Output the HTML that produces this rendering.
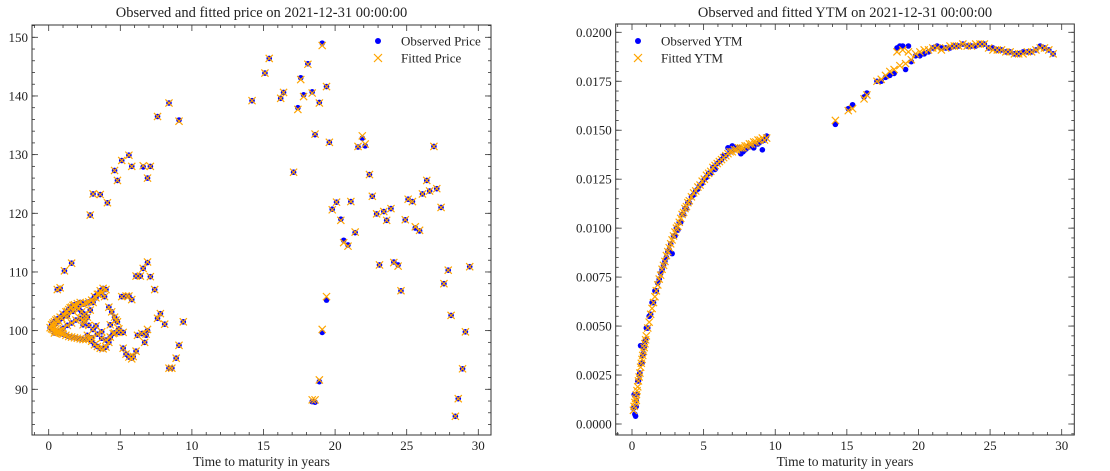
<!DOCTYPE html>
<html><head><meta charset="utf-8">
<style>
html,body{margin:0;padding:0;background:#fff;}
svg{display:block;font-family:"Liberation Serif","DejaVu Serif",serif;}
</style></head>
<body>
<svg id="chart" width="1110" height="471" viewBox="0 0 1110 471" xmlns="http://www.w3.org/2000/svg"></svg>
<script>
// ---------- Price chart data ----------
const priceX = [0.6,0.8,1.1,1.6,2.9,3.1,3.6,4.1,4.6,4.8,5.1,5.6,5.8,6.6,6.9,7.1,7.6,8.4,9.1,
6.1,6.4,6.6,6.9,7.1,7.4,7.8,7.6,8.1,8.4,8.6,8.9,9.1,9.4,
5.1,5.4,5.6,5.8,5.2,4.9,5.2,5.4,5.6,5.8,5.9,6.1,6.2,6.5,6.7,6.8,6.9,
0.1,0.2,0.3,0.4,0.5,0.6,0.7,0.8,0.9,1.0,1.2,1.4,1.6,1.8,2.0,2.2,2.4,2.6,2.8,3.0,
0.2,0.3,0.4,0.5,0.6,0.8,1.0,1.2,1.4,1.6,1.8,2.0,2.2,2.4,2.6,2.8,3.0,3.2,3.4,3.6,3.8,4.0,
4.2,4.4,4.6,4.8,4.5,4.2,4.0,3.8,3.6,3.4,3.2,3.0,2.7,2.4,1.3,1.7,2.1,2.5,3.3,3.7,4.3,4.7,
0.3,0.5,0.7,0.9,1.1,1.3,1.5,1.7,1.9,2.1,2.3,2.5,2.7,2.9,3.1,3.3,3.5,3.7,3.9,
0.4,0.7,1.0,1.3,1.6,1.9,2.2,2.5,2.8,3.1,3.4,3.7,4.0,4.3,4.6,4.9,
14.2,15.1,15.4,16.2,16.4,17.1,17.4,17.6,17.8,18.1,18.4,18.6,18.9,19.1,19.4,19.6,
18.4,18.6,18.9,19.1,19.4,19.8,20.1,20.4,20.6,20.9,21.1,21.4,21.6,21.9,22.1,22.4,22.6,22.9,23.1,23.4,23.6,23.9,
24.1,24.4,24.6,24.9,25.1,25.4,25.6,25.9,26.1,26.4,26.6,26.9,27.1,27.4,27.6,27.9,28.1,28.4,28.6,28.9,29.1,29.4];
const priceObs = [107,107.2,110.2,111.5,119.7,123.3,123.2,121.8,127.3,125.6,129,129.9,128,127.9,126,128,136.5,138.8,135.9,
109.3,109.3,110.6,111.6,109.2,107,102.9,102.1,101.1,93.6,93.6,95.3,97.5,101.5,
105.8,105.9,105.9,105.3,99.7,99.7,97,96,95.5,95.3,95.6,96.5,99.2,99.5,98,99.2,100,
100.5,100.3,100.2,100,99.9,99.8,99.7,99.6,99.5,99.4,99.2,99,98.9,98.8,98.7,98.6,98.5,98.5,98.6,98.8,
101,101.3,101.5,101.8,102,102.3,102.8,103.2,103.6,104,104.4,104.6,104.8,104.5,104.7,104.9,105.2,105.8,106.2,106.8,107.2,107,
104,103.2,102.3,101.5,99.5,98,97.2,96.9,97,97.3,97.6,98.2,99.2,101,102.5,103.3,103.8,102.2,100.8,99.8,101,101.8,
100.9,101.2,101.6,102.1,102.6,103.3,103.9,104.3,104.1,103.7,103.2,102.8,102.3,103.5,104.8,105.6,106.2,106.5,105.8,
99.6,99.9,100.4,100.9,101.3,101.8,102.1,101.6,100.9,100.2,99.4,98.7,98.4,98.9,99.6,100.3,
139.2,143.9,146.4,139.6,140.6,127,138,143.1,140.2,145.5,140.7,133.4,138.9,149,141.6,132.1,
87.9,87.8,91.3,99.7,105.2,120.7,121.9,119,115.4,114.6,122,116.7,131.3,132.8,131.5,126.6,122.9,119.9,111.2,120.3,118.8,120.8,
111.7,111.2,106.8,118.9,122.4,122,117.5,117,123.3,125.6,123.8,131.4,124.2,121,108,110.3,102.6,85.4,88.4,93.5,99.8,110.9];
const priceFit = [107,107.3,110.2,111.5,119.7,123.3,123.2,121.8,127.3,125.6,129,129.9,128,128.1,126,128,136.5,138.8,135.7,
109.3,109.3,110.6,111.7,109.2,107,102.9,102.1,101.1,93.6,93.6,95.3,97.5,101.5,
105.8,105.9,105.9,105.3,99.7,99.7,97,96,95.5,95.2,95.6,96.5,99.2,99.5,98,99.4,100.2,
100.5,100.3,100.2,100,99.9,99.8,99.7,99.6,99.5,99.4,99.2,99,98.9,98.8,98.7,98.6,98.5,98.5,98.6,98.8,
101,101.3,101.5,101.8,102,102.3,102.8,103.2,103.6,104,104.4,104.6,104.8,104.5,104.7,104.9,105.2,105.8,106.2,106.8,107.2,107,
104,103.2,102.3,101.5,99.5,98,97.2,96.9,97,97.3,97.6,98.2,99.2,101,102.5,103.3,103.8,102.2,100.8,99.8,101,101.8,
100.9,101.2,101.6,102.1,102.6,103.3,103.9,104.3,104.1,103.7,103.2,102.8,102.3,103.5,104.8,105.6,106.2,106.5,105.8,
99.6,99.9,100.4,100.9,101.3,101.8,102.1,101.6,100.9,100.2,99.4,98.7,98.4,98.9,99.6,100.3,
139.2,143.9,146.4,139.6,140.6,127,137.7,142.8,139.9,145.4,140.5,133.5,138.8,148.6,141.6,132.1,
88.2,88.2,91.6,100.2,105.8,120.6,121.9,118.8,115,114.4,122,116.8,131.4,133.2,131.8,126.6,122.9,119.9,111.2,120.3,118.8,120.8,
111.6,111,106.8,118.9,122.4,122,117.7,117.1,123.3,125.6,123.8,131.4,124.2,121,108,110.3,102.6,85.4,88.4,93.5,99.8,110.9];
const priceYTicks = [90,100,110,120,130,140,150];
const xTicks = [0,5,10,15,20,25,30];

// ---------- YTM chart data ----------
const ytmX = [0.1,0.15,0.2,0.25,0.3,0.35,0.4,0.5,0.6,0.7,0.8,0.9,1.0,1.2,1.4,1.6,1.8,2.0,2.2,2.4,2.6,2.8,3.0,3.2,3.4,3.6,3.8,4.0,4.3,4.6,4.9,5.2,5.5,5.8,6.1,6.4,6.7,7.0,7.3,7.6,7.9,8.2,8.5,8.8,9.1,9.4,
0.3,0.45,0.55,0.65,0.75,0.85,0.95,1.1,1.3,1.5,1.7,1.9,2.1,2.3,2.5,2.7,2.9,3.1,3.3,3.5,3.7,3.9,4.15,4.45,4.75,5.05,5.35,5.65,5.95,6.25,6.55,6.85,7.15,7.45,7.75,8.05,8.35,8.65,8.95,9.25,
14.2,15.1,15.4,16.2,16.4,17.1,17.4,17.7,18.0,18.3,18.5,18.7,18.9,19.1,19.3,19.5,19.8,20.1,20.4,20.7,21.0,21.3,21.6,21.9,22.2,22.5,22.8,23.1,23.4,23.7,24.0,24.3,24.6,24.9,25.2,25.5,25.8,26.1,26.4,26.7,27.0,27.3,27.6,27.9,28.2,28.5,28.8,29.1,29.4];
const ytmObs = [0.0008,0.0015,0.0005,0.0004,0.0009,0.0015,0.0022,0.0025,0.004,0.0031,0.0036,0.0042,0.0049,0.0055,0.0062,0.0068,0.0072,0.0077,0.0081,0.0085,0.0089,0.0087,0.0096,0.0099,0.0103,0.0107,0.011,0.0113,0.0117,0.012,0.0123,0.0126,0.0128,0.013,0.0134,0.0137,0.0141,0.0142,0.0141,0.0138,0.014,0.0142,0.0141,0.0143,0.014,0.0147,
0.0012,0.0022,0.0026,0.0031,0.0035,0.0039,0.0043,0.0049,0.0056,0.0062,0.0068,0.0074,0.0079,0.0083,0.0088,0.0092,0.0096,0.01,0.0103,0.0107,0.011,0.0113,0.0116,0.0119,0.0122,0.0125,0.0128,0.0131,0.0133,0.0135,0.0137,0.0139,0.014,0.0141,0.0139,0.0141,0.0142,0.0143,0.0144,0.0145,
0.0153,0.0161,0.0163,0.0167,0.0169,0.0175,0.0175,0.0177,0.0178,0.0179,0.0192,0.0193,0.0193,0.0181,0.0193,0.0185,0.0188,0.0188,0.0189,0.019,0.0192,0.0193,0.0192,0.0192,0.0192,0.0193,0.0193,0.0194,0.0193,0.0193,0.0193,0.0194,0.0194,0.0192,0.0192,0.0191,0.0191,0.019,0.019,0.0189,0.0189,0.019,0.019,0.019,0.0191,0.0193,0.0192,0.0191,0.0189];
const ytmFit = [0.0007,0.0009,0.0011,0.0013,0.0015,0.0017,0.0019,0.0024,0.0029,0.0033,0.0037,0.0041,0.0045,0.0052,0.0059,0.0065,0.0071,0.0076,0.0081,0.0086,0.009,0.0094,0.0098,0.0101,0.0105,0.0108,0.0111,0.0114,0.0118,0.0121,0.0124,0.0127,0.0129,0.0132,0.0134,0.0136,0.0138,0.0139,0.014,0.0141,0.0142,0.0143,0.0144,0.0145,0.0146,0.0146,
0.0012,0.0022,0.0026,0.0031,0.0035,0.0039,0.0043,0.0049,0.0056,0.0062,0.0068,0.0074,0.0079,0.0083,0.0088,0.0092,0.0096,0.01,0.0103,0.0107,0.011,0.0113,0.0116,0.0119,0.0122,0.0125,0.0128,0.0131,0.0133,0.0135,0.0137,0.0139,0.014,0.0141,0.0141,0.0142,0.0143,0.0144,0.0145,0.0145,
0.0155,0.016,0.0161,0.0166,0.0168,0.0175,0.0176,0.0178,0.018,0.0181,0.019,0.0183,0.0191,0.0184,0.019,0.0186,0.0189,0.019,0.0191,0.0191,0.0192,0.0192,0.0191,0.0192,0.0193,0.0193,0.0193,0.0194,0.0193,0.0193,0.0194,0.0194,0.0194,0.0192,0.0191,0.0191,0.0191,0.019,0.019,0.0189,0.0189,0.0189,0.019,0.019,0.0191,0.0192,0.0192,0.0191,0.0189];
const ytmYTicks = [0,0.0025,0.005,0.0075,0.01,0.0125,0.015,0.0175,0.02];
const ytmYLabels = ["0.0000","0.0025","0.0050","0.0075","0.0100","0.0125","0.0150","0.0175","0.0200"];

const NS = "http://www.w3.org/2000/svg";
const svg = document.getElementById('chart');
function mk(tag, attrs, parent){
  const e = document.createElementNS(NS, tag);
  for (const k in attrs) e.setAttribute(k, attrs[k]);
  (parent||svg).appendChild(e);
  return e;
}

function drawPanel(cfg){
  const g = mk('g', {});
  
  
  const {L,R,T,B} = cfg.frame;
  const sx = v => cfg.x0px + (v - 0) * (cfg.x30px - cfg.x0px) / 30;
  const sy = v => cfg.yApx + (v - cfg.yA) * (cfg.yBpx - cfg.yApx) / (cfg.yB - cfg.yA);
  const t = mk('text', {x:(L+R)/2, y:17, 'text-anchor':'middle', 'font-size':14.5, fill:'#222'}, g);
  t.textContent = cfg.title;
  
  
  const xl = mk('text', {x:(L+R)/2, y:466, 'text-anchor':'middle', 'font-size':13.5, fill:'#222'}, g);
  xl.textContent = 'Time to maturity in years';
  
  
  for (let v = -1; v <= 31; v++){
    const x = sx(v);
    if (x < L || x > R) continue;
    const len = (v % 5 === 0) ? 6 : 3;
    mk('line', {x1:x, y1:B, x2:x, y2:B-len, stroke:'#333', 'stroke-width':0.8}, g);
    mk('line', {x1:x, y1:T, x2:x, y2:T+len, stroke:'#333', 'stroke-width':0.8}, g);
  }
  xTicks.forEach(v => {
    const tx = mk('text', {x:sx(v), y:B+15, 'text-anchor':'middle', 'font-size':13, fill:'#222'}, g);
    tx.textContent = v;
    
    
  });
  for (let v = cfg.minorStart; v <= cfg.minorEnd + 1e-9; v += cfg.minorStep){
    const y = sy(v);
    if (y < T || y > B) continue;
    mk('line', {x1:L, y1:y, x2:L+3, y2:y, stroke:'#333', 'stroke-width':0.8}, g);
    mk('line', {x1:R, y1:y, x2:R-3, y2:y, stroke:'#333', 'stroke-width':0.8}, g);
  }
  cfg.yTicks.forEach((v, i) => {
    const y = sy(v);
    mk('line', {x1:L, y1:y, x2:L+6, y2:y, stroke:'#333', 'stroke-width':0.8}, g);
    mk('line', {x1:R, y1:y, x2:R-6, y2:y, stroke:'#333', 'stroke-width':0.8}, g);
    const ty = mk('text', {x:L-4, y:y+4.5, 'text-anchor':'end', 'font-size':13, fill:'#222'}, g);
    ty.textContent = cfg.yLabels[i];
    
    
  });
  const og = mk('g', {}, g);
  
  
  cfg.xs.forEach((xv, i) => {
    const c = mk('circle', {cx:sx(xv), cy:sy(cfg.obs[i]), r:2.8, fill:'#0000ff'}, og);
    
    
  });
  const fg = mk('g', {}, g);
  
  
  cfg.xs.forEach((xv, i) => {
    const x = sx(xv), y = sy(cfg.fit[i]), s = 3.6;
    const p = mk('path', {d:`M${x-s},${y-s}L${x+s},${y+s}M${x-s},${y+s}L${x+s},${y-s}`, stroke:'#ffa500', 'stroke-width':1.2, fill:'none'}, fg);
    
    
  });
  mk('rect', {x:L, y:T, width:R-L, height:B-T, fill:'none', stroke:'#333', 'stroke-width':1}, g);
  const lg = mk('g', {}, g);
  
  
  mk('circle', {cx:cfg.legX, cy:41, r:3, fill:'#0000ff'}, lg);
  const s = 4, ly = 58;
  mk('path', {d:`M${cfg.legX-s},${ly-s}L${cfg.legX+s},${ly+s}M${cfg.legX-s},${ly+s}L${cfg.legX+s},${ly-s}`, stroke:'#ffa500', 'stroke-width':1.2}, lg);
  const l1 = mk('text', {x:cfg.legX+23, y:45.5, 'font-size':13, fill:'#222'}, lg);
  l1.textContent = cfg.leg1;
  
  
  const l2 = mk('text', {x:cfg.legX+23, y:62.5, 'font-size':13, fill:'#222'}, lg);
  l2.textContent = cfg.leg2;
  
  
}

drawPanel({
  name:'price-chart', title:'Observed and fitted price on 2021-12-31 00:00:00',
  frame:{L:32, R:491, T:25, B:435},
  x0px:48.7, x30px:478.3, yA:90, yApx:389.3, yB:150, yBpx:37.3,
  yTicks:priceYTicks, yLabels:priceYTicks.map(String),
  minorStart:84, minorEnd:152, minorStep:2,
  xs:priceX, obs:priceObs, fit:priceFit,
  legX:378, leg1:'Observed Price', leg2:'Fitted Price'
});
drawPanel({
  name:'ytm-chart', title:'Observed and fitted YTM on 2021-12-31 00:00:00',
  frame:{L:615.7, R:1074.3, T:24, B:435},
  x0px:632, x30px:1061.7, yA:0, yApx:424, yB:0.02, yBpx:32.3,
  yTicks:ytmYTicks, yLabels:ytmYLabels,
  minorStart:-0.0005, minorEnd:0.0205, minorStep:0.0005,
  xs:ytmX, obs:ytmObs, fit:ytmFit,
  legX:638, leg1:'Observed YTM', leg2:'Fitted YTM'
});
</script>
</body></html>
